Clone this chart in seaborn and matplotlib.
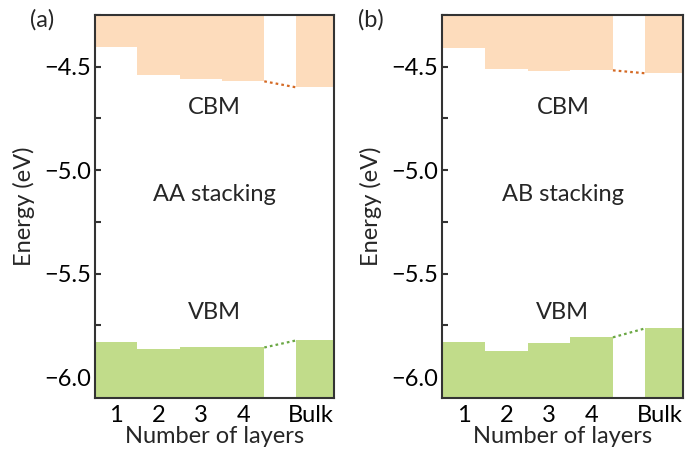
import matplotlib
matplotlib.use("Agg")
import matplotlib.pyplot as plt
import seaborn as sns
import numpy as np
import pandas as pd
from matplotlib.ticker import MultipleLocator

sns.set_theme(style="ticks")
plt.rcParams['font.family'] = ['Lato', 'DejaVu Sans']

layers = ["1", "2", "3", "4", "Bulk"]
layer_pos = [1, 2, 3, 4, 5.6]
bar_left = [0.5, 1.5, 2.5, 3.5, 5.25]
bar_right = [1.5, 2.5, 3.5, 4.5, 6.15]

cbm_aa = [-4.407, -4.539, -4.558, -4.571, -4.600]
vbm_aa = [-5.832, -5.866, -5.857, -5.857, -5.823]
cbm_ab = [-4.408, -4.511, -4.521, -4.518, -4.532]
vbm_ab = [-5.832, -5.876, -5.837, -5.808, -5.765]

panels = [("(a)", "AA stacking", cbm_aa, vbm_aa, 0.062),
          ("(b)", "AB stacking", cbm_ab, vbm_ab, 0.541)]

YMIN, YMAX = -6.1, -4.25
XMIN, XMAX = 0.5, 6.15
FS = 17
orange_fill = "#fddcbc"
green_fill = "#c1dc8a"
orange_line = "#d46a25"
green_line = "#6aa744"
spine_col = "#333333"

fig = plt.figure(figsize=(6.86, 4.51), dpi=100)
axes_pos = [[0.1385, 0.118, 0.3485, 0.849], [0.645, 0.118, 0.351, 0.849]]

for pos, (tag, stack, cbm, vbm, tagx) in zip(axes_pos, panels):
    ax = fig.add_axes(pos)
    widths = [r - l for l, r in zip(bar_left, bar_right)]
    ax.bar(bar_left, [YMAX - c for c in cbm], bottom=cbm, width=widths,
           align="edge", color=orange_fill, edgecolor="none", zorder=1)
    ax.bar(bar_left, [v - YMIN for v in vbm], bottom=YMIN, width=widths,
           align="edge", color=green_fill, edgecolor="none", zorder=1)
    dc = pd.DataFrame({"x": [bar_right[3], bar_left[4]], "y": [cbm[3], cbm[4]]})
    dv = pd.DataFrame({"x": [bar_right[3], bar_left[4]], "y": [vbm[3], vbm[4]]})
    sns.lineplot(data=dc, x="x", y="y", ax=ax, color=orange_line, lw=1.6,
                 linestyle=(0, (1.2, 1.4)), zorder=2)
    sns.lineplot(data=dv, x="x", y="y", ax=ax, color=green_line, lw=1.6,
                 linestyle=(0, (1.2, 1.4)), zorder=2)

    ax.set_xlim(XMIN, XMAX)
    ax.set_ylim(YMIN, YMAX)
    ax.set_xticks(layer_pos)
    ax.set_xticklabels(layers)
    ax.yaxis.set_major_locator(MultipleLocator(0.5))
    ax.yaxis.set_minor_locator(MultipleLocator(0.25))
    ax.yaxis.set_major_formatter(matplotlib.ticker.FuncFormatter(lambda v, p: f"\u2212{abs(v):.1f}"))
    ax.tick_params(axis="both", which="both", direction="in", labelsize=FS,
                   color=spine_col, labelcolor="black", width=1.5)
    ax.tick_params(axis="both", which="major", length=4)
    ax.tick_params(axis="y", which="both", pad=3)
    ax.tick_params(axis="x", which="major", pad=5)
    ax.tick_params(axis="y", which="minor", length=4)
    for s in ax.spines.values():
        s.set_color(spine_col)
        s.set_linewidth(1.5)
    ax.set_xlabel("Number of layers", fontsize=FS)
    ax.set_ylabel("Energy (eV)", fontsize=FS)
    ax.xaxis.set_label_coords(0.5, -0.075)
    ax.yaxis.set_label_coords(-0.25, 0.5)
    ax.text(0.5, 0.758, "CBM", transform=ax.transAxes, ha="center", va="center", fontsize=FS)
    ax.text(0.5, 0.53, stack, transform=ax.transAxes, ha="center", va="center", fontsize=FS)
    ax.text(0.5, 0.224, "VBM", transform=ax.transAxes, ha="center", va="center", fontsize=FS)
    fig.text(tagx, 0.957, tag, ha="center", va="center", fontsize=FS)

fig.savefig("out.png", dpi=100)
